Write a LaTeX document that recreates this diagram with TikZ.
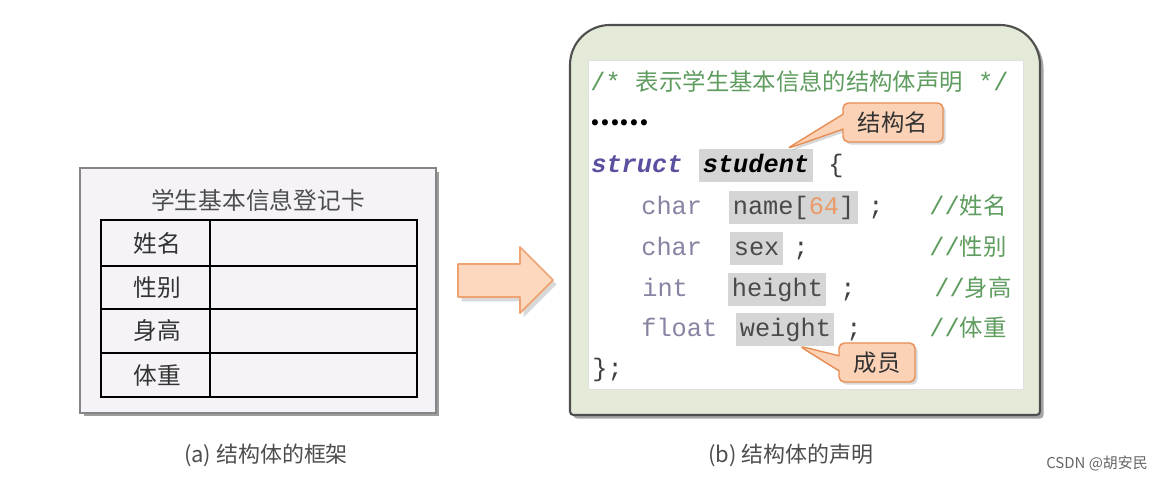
\documentclass[tikz,border=0pt]{standalone}
\usepackage{fontspec}
\setmainfont{Noto Sans CJK SC}
\newfontfamily\codefont{Liberation Mono}
\newfontfamily\cnfont{Noto Sans CJK SC}
\newcommand{\cn}[1]{{\cnfont\fontsize{13.3}{16}\selectfont #1}}
\usetikzlibrary{positioning, calc, shadows, shapes.callouts}

\definecolor{cardfill}{HTML}{F5F3F7}
\definecolor{cardline}{HTML}{858585}
\definecolor{panelfill}{HTML}{E3EAD8}
\definecolor{panelline}{HTML}{4F4F4F}
\definecolor{arrowfill}{HTML}{FCD8BE}
\definecolor{arrowline}{HTML}{F0A372}
\definecolor{tipfill}{HTML}{FBD2B6}
\definecolor{tipline}{HTML}{E88E55}
\definecolor{keycol}{HTML}{8784A3}
\definecolor{structcol}{HTML}{5A50A0}
\definecolor{membercol}{HTML}{4A4A4A}
\definecolor{hlgray}{HTML}{D5D5D5}
\definecolor{numcol}{HTML}{EA9A66}
\definecolor{cmtgreen}{HTML}{5F9C5F}
\definecolor{captext}{HTML}{4D4D4D}

\begin{document}
\begin{tikzpicture}[x=0.02cm, y=-0.02cm, every node/.style={align=center},
    card/.style={draw=cardline, line width=1pt, fill=cardfill,
        drop shadow={shadow xshift=2pt, shadow yshift=-2pt, opacity=0.55, fill=black!70}},
    cardtext/.style={text=captext, font=\fontsize{13.5}{16}\selectfont},
    tabline/.style={line width=1.6pt},
    rowline/.style={line width=1.3pt},
    code/.style={font=\codefont\fontsize{14.4}{16}\selectfont, anchor=base west, inner sep=0pt},
    hl/.style={code, fill=hlgray, inner xsep=2pt, inner ysep=2.5pt, text height=10.5pt, text depth=3pt},
    keyword/.style={code, text=keycol},
    comment/.style={code, text=cmtgreen},
    tip/.style={rectangle callout, draw=tipline, line width=0.8pt, fill=tipfill, rounded corners=3pt,
        minimum height=0.78cm, inner sep=0pt, callout pointer width=0.3cm,
        font=\fontsize{13.3}{16}\selectfont, text=black!80,
        drop shadow={shadow xshift=1.5pt, shadow yshift=-1.5pt, opacity=0.3}},
    caption/.style={text=captext, font=\fontsize{12.5}{15}\selectfont}]
    \useasboundingbox (0,0) rectangle (1162,480);

    % (a) registration card
    \node[card, minimum width=7.12cm, minimum height=4.9cm] (card) at (258,290.5) {};
    \node[cardtext] (title) at (258,200) {学生基本信息登记卡};
    \draw[tabline] (101,220) rectangle (417,397);
    \foreach \y in {266,309,353}
        \draw[rowline] (101,\y) -- (417,\y);
    \draw[rowline] (210,220) -- (210,397);
    \foreach \txt/\y/\nm in {姓名/243/fname, 性别/288/fsex, 身高/331/fheight, 体重/375/fweight}
        \node[cardtext, text=black!80] (\nm) at (157,\y) {\txt};

    % block arrow
    \draw[draw=arrowline, line width=1pt, fill=arrowfill, line join=round,
        drop shadow={shadow xshift=2pt, shadow yshift=-2.5pt, opacity=0.3}]
        (458,264) -- (520,264) -- (520,247) -- (553,280) -- (520,313) -- (520,297) -- (458,297) -- cycle;

    % (b) declaration panel
    \draw[draw=panelline, line width=1.2pt, fill=panelfill,
        drop shadow={shadow xshift=2pt, shadow yshift=-2pt, opacity=0.5, fill=black!70}]
        (805,25) [rounded corners=0.8cm] -- (1040,25) -- (1040,200) [rounded corners=2pt] -- (1040,415)
        -- (570,415) -- (570,200) [rounded corners=0.8cm] -- (570,25) -- cycle;
    \draw[draw=black!12, fill=white] (588,60) rectangle (1023,389);

    % code lines
    \node[comment] (cmt) at (590,90) {/* \cn{表示学生基本信息的结构体声明} */};
    \node[anchor=base west, inner sep=0pt, font=\bfseries\fontsize{16}{18}\selectfont] (dots) at (590,125) {......};
    \node[code, text=structcol, font=\codefont\fontsize{14.4}{16}\selectfont\bfseries\itshape] (kstruct) at (591,172) {struct};
    \node[hl, font=\codefont\fontsize{14.4}{16}\selectfont\bfseries\itshape] (student) at (699,172) {student};
    \node[code, text=black!75] (lbrace) at (828,172) {\{};

    \node[keyword] (k1) at (641,214) {char};
    \node[hl, text=membercol] (name) at (729,214) {name[\textcolor{numcol}{64}]};
    \node[code, text=black!75] (s1) at (868,214) {;};
    \node[comment] (c1) at (929,214) {//\cn{姓名}};

    \node[keyword] (k2) at (641,255) {char};
    \node[hl, text=membercol] (sex) at (730,255) {sex};
    \node[code, text=black!75] (s2) at (793,255) {;};
    \node[comment] (c2) at (929,255) {//\cn{性别}};

    \node[keyword] (k3) at (642,296) {int};
    \node[hl, text=membercol] (height) at (728,296) {height};
    \node[code, text=black!75] (s3) at (840,296) {;};
    \node[comment] (c3) at (934,296) {//\cn{身高}};

    \node[keyword] (k4) at (641,336) {float};
    \node[hl, text=membercol] (weight) at (736,336) {weight};
    \node[code, text=black!75] (s4) at (846,336) {;};
    \node[comment] (c4) at (929,336) {//\cn{体重}};

    \node[code, text=black!75] (rbrace) at (592,376) {\};};

    % callouts
    \coordinate (namept) at ($(student.north west)!0.77!(student.north east)$);
    \coordinate (memberpt) at ($(weight.south west)!0.64!(weight.south east)$);
    \node[tip, minimum width=2cm, callout absolute pointer={(namept)}] (tagname) at (893,122.5) {结构名};
    \node[tip, minimum width=1.52cm, callout absolute pointer={(memberpt)}] (tagmember) at (877,362.5) {成员};

    % captions
    \node[caption] (capa) at (266,455) {(a) 结构体的框架};
    \node[caption] (capb) at (791,455) {(b) 结构体的声明};
    \node[text=black!60, font=\fontsize{8.5}{10}\selectfont] (mark) at (1097,463) {CSDN @胡安民};
\end{tikzpicture}
\end{document}
